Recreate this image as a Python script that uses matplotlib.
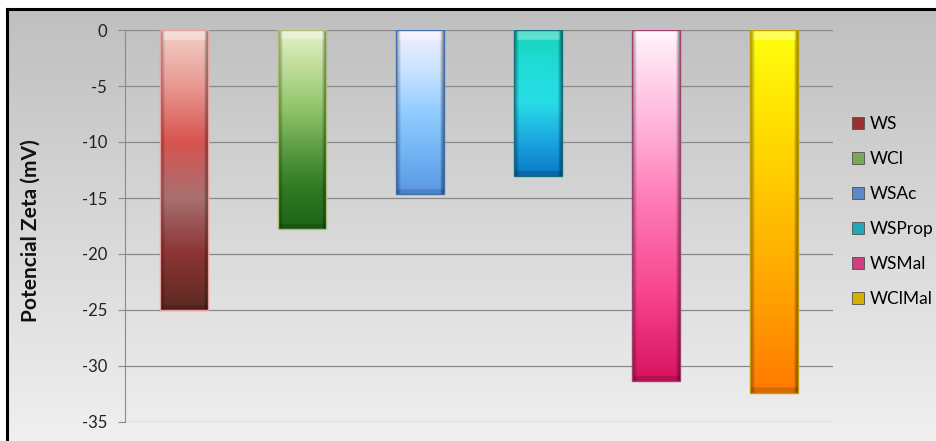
import numpy as np
import matplotlib.pyplot as plt
from matplotlib.colors import LinearSegmentedColormap
from matplotlib.patches import Patch

plt.rcParams['font.family'] = ['Lato', 'DejaVu Sans']

# data
series = ['WS', 'WCl', 'WSAc', 'WSProp', 'WSMal', 'WClMal']
zeta = [-25.0, -17.8, -14.6, -13.0, -31.3, -32.4]
y_ticks = [0, -5, -10, -15, -20, -25, -30, -35]

# top -> bottom colour stops for each bar
stops = {
    'WS':     ['#f2d0c8', '#e89890', '#d85450', '#a87070', '#8c3434', '#5c2a22'],
    'WCl':    ['#e6f2c8', '#bcdc98', '#90c468', '#5c9c44', '#2e7a22', '#1e6418'],
    'WSAc':   ['#f4f0ff', '#c8e2ff', '#90ccff', '#72b4f4', '#5a98e4'],
    'WSProp': ['#18d4b8', '#20dcd8', '#28dce8', '#1ca8e0', '#0a78c8'],
    'WSMal':  ['#fff4fa', '#ffb8dc', '#ff78b4', '#f8458e', '#d81260'],
    'WClMal': ['#ffff10', '#ffe000', '#ffc000', '#ffa000', '#ff7a00'],
}
edges = ['#e8a0a0', '#a8c070', '#4070b0', '#107080', '#a04070', '#c0a000']
legend_cols = ['#9a3030', '#78a858', '#5a88c8', '#20a8b8', '#d04080', '#d8b000']

W, H = 937, 441
fig = plt.figure(figsize=(W / 100, H / 100), dpi=100, facecolor='white')

# grey gradient background with black frame top/left
bg = fig.add_axes([7 / W, 0, 1 - 7 / W, (H - 9) / H])
grad = np.linspace(0.75, 0.94, 256)[:, None]
bg.imshow(np.dstack([grad, grad, grad]), aspect='auto', extent=(0, 1, 0, 1))
bg.set_xlim(0, 1)
bg.set_ylim(0, 1)
bg.set_xticks([])
bg.set_yticks([])
for s in ['right', 'bottom']:
    bg.spines[s].set_visible(False)
for s in ['top', 'left']:
    bg.spines[s].set_linewidth(2.2)
    bg.spines[s].set_color('black')

ax = fig.add_axes([125 / W, (H - 422) / H, (833 - 125) / W, (422 - 30) / H])
ax.patch.set_alpha(0)
x = np.arange(len(series))
bars = ax.bar(x, zeta, width=0.41, color='none', edgecolor='none', zorder=3)

nx, ny = 60, 400
u = np.linspace(0, 1, nx)
bevel = np.ones(nx)
bevel = np.minimum(bevel, 0.6 + 0.4 * np.clip(u / 0.1, 0, 1))
bevel = np.minimum(bevel, 0.45 + 0.55 * np.clip((1 - u) / 0.1, 0, 1))
for b, name, ec in zip(bars, series, edges):
    cmap = LinearSegmentedColormap.from_list(name, stops[name])
    v = cmap(np.linspace(0, 1, ny))[:, :3]
    img = v[:, None, :] * bevel[None, :, None]
    h = abs(b.get_height())
    # light top bevel, dark bottom bevel (about 0.9 data units tall)
    n_edge = max(3, int(ny * 0.9 / h))
    img[:n_edge, 4:-4, :] = img[:n_edge, 4:-4, :] * 0.7 + 0.3
    img[-n_edge // 2:, :, :] *= 0.85
    x0, w, hh = b.get_x(), b.get_width(), b.get_height()
    ax.imshow(img, extent=(x0, x0 + w, hh, 0), aspect='auto', zorder=3,
              interpolation='bilinear')
    ax.add_patch(plt.Rectangle((x0, 0), w, hh, fill=False, edgecolor=ec,
                               linewidth=1.0, zorder=4))

ax.set_xlim(-0.5, len(series) - 0.5)
ax.set_ylim(-35, 0)
ax.set_yticks(y_ticks)
ax.set_yticklabels([str(t) for t in y_ticks], fontsize=12)
ax.set_xticks([])
ax.grid(axis='y', color='#8a8a8a', linewidth=0.9, zorder=1)
ax.set_axisbelow(True)
for s in ['top', 'right', 'bottom']:
    ax.spines[s].set_visible(False)
ax.spines['left'].set_color('#8a8a8a')
ax.tick_params(axis='y', length=5, color='#8a8a8a', pad=8, labelcolor='#222222')

fig.text(31 / W, 1 - 231 / H, 'Potencial Zeta (mV)', rotation=90, ha='center',
         va='center', fontsize=15, fontweight='bold', color='#111111')

handles = [Patch(facecolor=c, edgecolor='#505050', linewidth=0.6) for c in legend_cols]
fig.legend(handles, series, loc='upper left', bbox_to_anchor=(852 / W, 1 - 116 / H),
           frameon=False, fontsize=12.5, handlelength=0.7, handleheight=0.7,
           handletextpad=0.3, labelspacing=1.1, borderaxespad=0, borderpad=0)

fig.savefig('out.png', dpi=100, facecolor='white')
